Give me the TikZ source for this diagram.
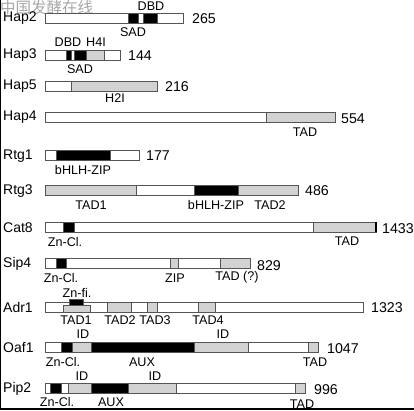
\documentclass[tikz,border=0pt]{standalone}
\usepackage{fontspec}
\setmainfont{Liberation Sans}
\newfontfamily\cjk{Noto Sans CJK SC}
\definecolor{barline}{HTML}{555555}
\definecolor{dom}{HTML}{D2D2D2}
\begin{document}
\begin{tikzpicture}[x=1pt,y=-1pt,
  segline/.style={draw=barline,line width=0.9pt},
  pname/.style={anchor=west,font=\fontsize{14}{16}\selectfont,inner sep=0pt},
  plen/.style={anchor=west,font=\fontsize{14.2}{16}\selectfont,inner sep=0pt},
  dlab/.style={font=\fontsize{12.6}{14}\selectfont,inner sep=0pt}]
\useasboundingbox (0,0) rectangle (414,410);
\newcommand\seg[4]{\filldraw[segline,fill=#4] (#1,#3) rectangle (#2,#3+10);}
% watermark
\node[anchor=west,inner sep=0pt,text=black!35,font=\cjk\fontsize{15.5}{16}\selectfont] (wm) at (0,7.5) {中国发酵在线};
% frame
\draw[black,line width=1.2pt] (0.6,0) -- (0.6,409) -- (414,409);
% Hap2
\seg{45}{183}{13}{white}
\seg{128}{138}{13}{black}
\seg{143}{157}{13}{black}
\node[pname] (n1) at (3,18.5) {Hap2};
\node[dlab] (h2dbd) at (151,6) {DBD};
\node[dlab] (h2sad) at (133,32) {SAD};
\node[plen] (l1) at (192,18.5) {265};
% Hap3
\seg{45}{120}{50}{white}
\seg{86}{104}{50}{dom}
\seg{66}{71}{50}{black}
\seg{74}{86}{50}{black}
\node[pname] (n2) at (3,55.5) {Hap3};
\node[dlab] (h3dbd) at (68,42) {DBD};
\node[dlab] (h3h4i) at (96,42) {H4I};
\node[dlab] (h3sad) at (80,69) {SAD};
\node[plen] (l2) at (128,56) {144};
% Hap5
\seg{45}{157}{81}{white}
\seg{71}{157}{81}{dom}
\node[pname] (n3) at (3,86.5) {Hap5};
\node[dlab] (h5h2i) at (115,98) {H2I};
\node[plen] (l3) at (165,87) {216};
% Hap4
\seg{45}{335}{112}{white}
\seg{266}{335}{112}{dom}
\node[pname] (n4) at (3,117.5) {Hap4};
\node[dlab] (h4tad) at (305,132) {TAD};
\node[plen] (l4) at (341,118.5) {554};
% Rtg1
\seg{45}{139}{150}{white}
\seg{56}{110}{150}{black}
\node[pname] (n5) at (3,156) {Rtg1};
\node[dlab] (r1b) at (83,170) {bHLH-ZIP};
\node[plen] (l5) at (146,156) {177};
% Rtg3
\seg{45}{298}{185}{white}
\seg{45}{136}{185}{dom}
\seg{238}{298}{185}{dom}
\seg{194}{238}{185}{black}
\node[pname] (n6) at (3,191) {Rtg3};
\node[dlab] (r3t1) at (91,205) {TAD1};
\node[dlab] (r3b) at (216,205) {bHLH-ZIP};
\node[dlab] (r3t2) at (270,205) {TAD2};
\node[plen] (l6) at (305,191) {486};
% Cat8
\seg{45}{376}{222}{white}
\seg{313}{376}{222}{dom}
\seg{63}{74}{222}{black}
\draw[black,line width=1.8pt] (376,222) -- (376,232);
\node[pname] (n7) at (3,227.5) {Cat8};
\node[dlab] (c8zn) at (65,242) {Zn-Cl.};
\node[dlab] (c8tad) at (347,241) {TAD};
\node[plen] (l7) at (382,229) {1433};
% Sip4
\seg{45}{250}{258}{white}
\seg{170}{178}{258}{dom}
\seg{220}{250}{258}{dom}
\seg{56}{66}{258}{black}
\node[pname] (n8) at (3,263.5) {Sip4};
\node[dlab] (s4zn) at (61,278) {Zn-Cl.};
\node[dlab] (s4zip) at (175,278) {ZIP};
\node[dlab] (s4tad) at (237,277) {TAD (?)};
\node[plen] (l8) at (257,266) {829};
% Adr1
\seg{45}{363}{302}{white}
\filldraw[segline,fill=dom] (63,305) rectangle (90,312);
\filldraw[segline,fill=black] (69,299.5) rectangle (83,305);
\seg{107}{131}{302}{dom}
\seg{147}{157}{302}{dom}
\seg{198}{215}{302}{dom}
\node[pname] (n9) at (3,307.5) {Adr1};
\node[dlab] (a1zn) at (77,293) {Zn-fi.};
\node[dlab] (a1t1) at (76,320) {TAD1};
\node[dlab] (a1t2) at (120,320) {TAD2};
\node[dlab] (a1t3) at (155,320) {TAD3};
\node[dlab] (a1t4) at (208,320) {TAD4};
\node[plen] (l9) at (371,307.5) {1323};
% Oaf1
\seg{45}{318}{342}{white}
\seg{61}{72}{342}{black}
\seg{72}{91}{342}{dom}
\seg{91}{194}{342}{black}
\seg{194}{248}{342}{dom}
\seg{308}{318}{342}{dom}
\node[pname] (n10) at (3,347.5) {Oaf1};
\node[dlab] (o1id1) at (83,334) {ID};
\node[dlab] (o1id2) at (223,334) {ID};
\node[dlab] (o1zn) at (63,362) {Zn-Cl.};
\node[dlab] (o1aux) at (142,362) {AUX};
\node[dlab] (o1tad) at (315,362) {TAD};
\node[plen] (l10) at (327,349) {1047};
% Pip2
\seg{45}{305}{383}{white}
\seg{50}{61}{383}{black}
\seg{68}{91}{383}{dom}
\seg{91}{128}{383}{black}
\seg{128}{176}{383}{dom}
\seg{295}{305}{383}{dom}
\node[pname] (n11) at (3,388.5) {Pip2};
\node[dlab] (p2id1) at (82,376) {ID};
\node[dlab] (p2id2) at (155,376) {ID};
\node[dlab] (p2zn) at (57,402) {Zn-Cl.};
\node[dlab] (p2aux) at (111,402) {AUX};
\node[dlab] (p2tad) at (302,404) {TAD};
\node[plen] (l11) at (314,390) {996};
\draw[black,line width=1.2pt] (0.6,409) -- (414,409);
\end{tikzpicture}
\end{document}
